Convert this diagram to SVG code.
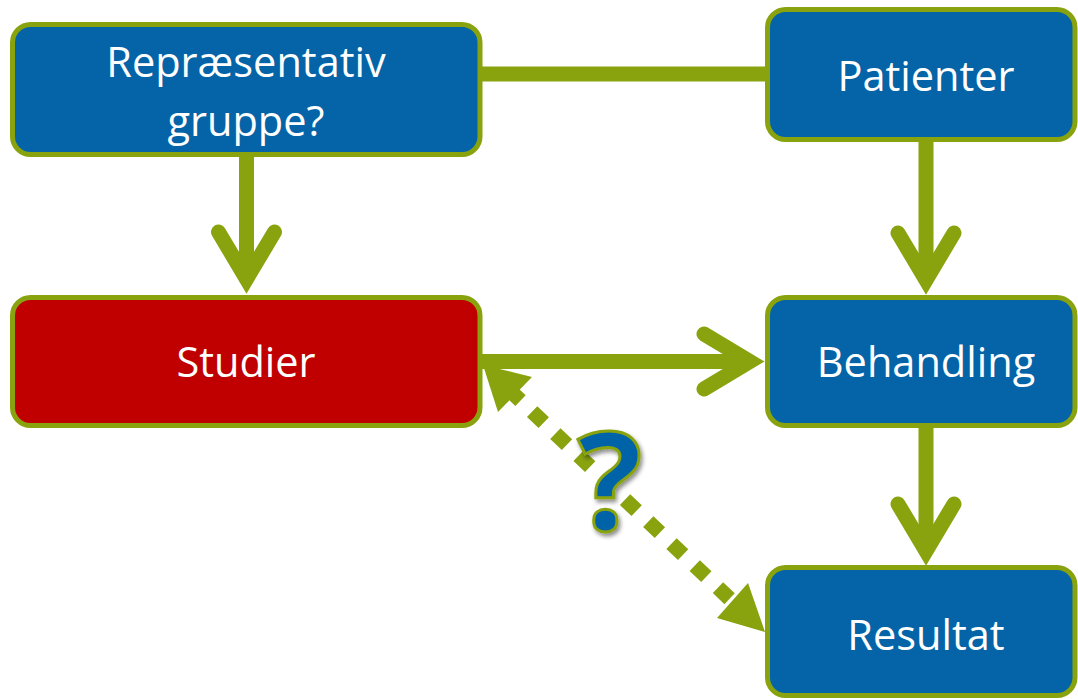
<svg xmlns="http://www.w3.org/2000/svg" width="1078" height="699" viewBox="0 0 1078 699">
<style>
.box{stroke:#88A30E;stroke-width:5}
.blue{fill:#0464A7}
.red{fill:#C00000}
.lbl{font-family:"Open Sans","Noto Sans",sans-serif;font-size:41.5px;fill:#fff;text-anchor:middle}
.ln{stroke:#88A30E;stroke-width:15;fill:none}
.head{stroke:#88A30E;stroke-width:15;fill:none;stroke-linecap:round;stroke-linejoin:miter}
</style>
<defs>
<filter id="sh" x="-30%" y="-30%" width="160%" height="160%">
<feDropShadow dx="2" dy="3" stdDeviation="2" flood-color="#000" flood-opacity="0.45"/>
</filter>
</defs>
<g id="connectors">
<line class="ln" x1="478" y1="74" x2="770" y2="74"/>
<line class="ln" x1="246.5" y1="152" x2="246.5" y2="279"/>
<polyline class="head" points="218.5,232 246.5,279 274.5,232"/>
<line class="ln" x1="926" y1="137" x2="926" y2="280"/>
<polyline class="head" points="898,233 926,280 954,233"/>
<line class="ln" x1="926" y1="423" x2="926" y2="551"/>
<polyline class="head" points="898,504 926,551 954,504"/>
<line class="ln" x1="478" y1="361.5" x2="750" y2="361.5"/>
<polyline class="head" points="704,334 750,361.5 704,389"/>
<line x1="508.9" y1="389.6" x2="729.6" y2="598.7" stroke="#88A30E" stroke-width="15" stroke-dasharray="16 16"/>
<polygon points="483,365 532,377 498,412" fill="#88A30E"/>
<polygon points="765,632 717,618 748,583" fill="#88A30E"/>
</g>
<g id="n-repr">
<rect class="box blue" x="12.5" y="24.5" width="467.5" height="130" rx="18"/>
<text class="lbl" x="246" y="77">Repræsentativ</text>
<text class="lbl" x="246" y="136">gruppe?</text>
</g>
<g id="n-patienter">
<rect class="box blue" x="767.5" y="9.5" width="307.5" height="130" rx="18"/>
<text class="lbl" x="926" y="91">Patienter</text>
</g>
<g id="n-studier">
<rect class="box red" x="12.5" y="297.5" width="467.5" height="128" rx="18"/>
<text class="lbl" x="246" y="377">Studier</text>
</g>
<g id="n-behandling">
<rect class="box blue" x="767.5" y="297.5" width="307.5" height="128" rx="18"/>
<text class="lbl" x="926" y="377">Behandling</text>
</g>
<g id="n-resultat">
<rect class="box blue" x="767.5" y="567.5" width="307.5" height="128" rx="18"/>
<text class="lbl" x="926" y="650">Resultat</text>
</g>
<g id="qmark">
<text x="610" y="530" font-family="Open Sans, Noto Sans, sans-serif" font-weight="bold" font-size="136" text-anchor="middle" fill="#0464A7" stroke="#88A30E" stroke-width="3" filter="url(#sh)">?</text>
</g>
</svg>
